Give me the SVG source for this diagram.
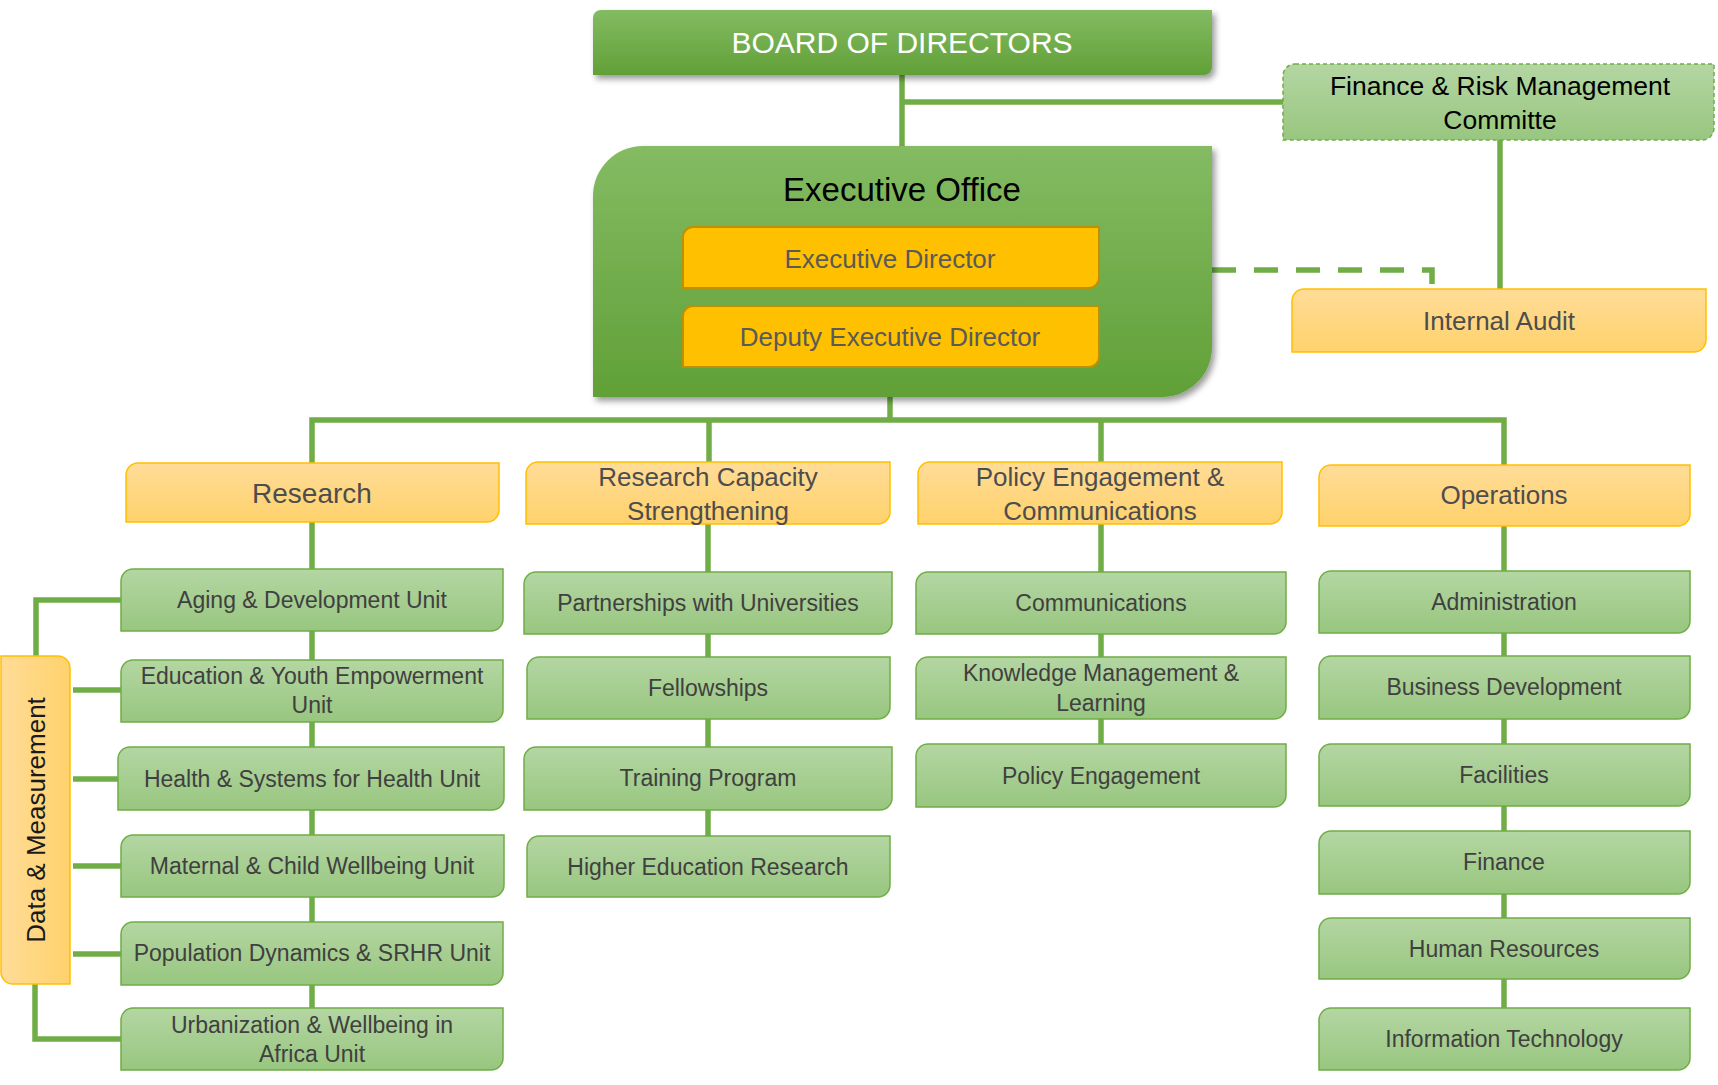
<svg xmlns="http://www.w3.org/2000/svg" width="1718" height="1085" viewBox="0 0 1718 1085">
<defs>
<linearGradient id="gDark" x1="0" y1="0" x2="0" y2="1"><stop offset="0" stop-color="#84bb63"/><stop offset="1" stop-color="#61a037"/></linearGradient>
<linearGradient id="gLight" x1="0" y1="0" x2="0" y2="1"><stop offset="0" stop-color="#b4d6a3"/><stop offset="1" stop-color="#98c67f"/></linearGradient>
<linearGradient id="gOrange" x1="0" y1="0" x2="0" y2="1"><stop offset="0" stop-color="#ffdc98"/><stop offset="1" stop-color="#ffd26c"/></linearGradient>
<linearGradient id="gOrangeH" x1="0" y1="0" x2="1" y2="0"><stop offset="0" stop-color="#ffdc98"/><stop offset="1" stop-color="#ffd26c"/></linearGradient>
<filter id="shadow" x="-5%" y="-10%" width="115%" height="130%"><feDropShadow dx="3" dy="4" stdDeviation="3" flood-color="#000" flood-opacity="0.4"/></filter>
<style>
.unit{fill:url(#gLight);stroke:#70ad47;stroke-width:1.5}
.head{fill:url(#gOrange);stroke:#ffc000;stroke-width:1.5}
.exec{fill:#ffc000;stroke:#bf9000;stroke-width:2}
.t{font-family:"Liberation Sans",Arial,sans-serif;text-anchor:middle;dominant-baseline:central}
.tu{font-size:23px;fill:#404040}
.th{font-size:26px;fill:#4d4d4d}
.con{fill:none;stroke:#70ad47;stroke-width:5.5}
.dash{fill:none;stroke:#70ad47;stroke-width:5.5;stroke-dasharray:24 18}
</style>
</defs>

<g id="connectors">
<path class="con" d="M902,75 V146"/>
<path class="con" d="M902,102 H1284"/>
<path class="con" d="M1500,140 V289"/>
<path class="dash" d="M1212,270 H1432 V286"/>
<path class="con" d="M890,397 V420"/>
<path class="con" d="M312,463 V420 H1504 V465"/>
<path class="con" d="M709,420 V462"/>
<path class="con" d="M1101,420 V462"/>
<path class="con" d="M312,522 V1008"/>
<path class="con" d="M708,524 V836"/>
<path class="con" d="M1101,524 V744"/>
<path class="con" d="M1504,526 V1008"/>
<path class="con" d="M121,600 H36 V656"/>
<path class="con" d="M73,690 H121"/>
<path class="con" d="M73,779 H118"/>
<path class="con" d="M73,866 H121"/>
<path class="con" d="M73,954 H121"/>
<path class="con" d="M35,984 V1039 H121"/>
</g>

<g id="board">
<path d="M601,10 H1212 V67 A8,8 0 0 1 1204,75 H593 V18 A8,8 0 0 1 601,10 Z" fill="url(#gDark)" filter="url(#shadow)"/>
<text class="t" x="902" y="42" font-size="30" fill="#ffffff">BOARD OF DIRECTORS</text>
</g>

<g id="finance-committee">
<path d="M1295,64 H1714 V128 A12,12 0 0 1 1702,140 H1283 V76 A12,12 0 0 1 1295,64 Z" fill="url(#gLight)" stroke="#70ad47" stroke-width="1.5" stroke-dasharray="4 3"/>
<text class="t" x="1500" y="86" font-size="26.5" fill="#000000">Finance &amp; Risk Management</text>
<text class="t" x="1500" y="120" font-size="26.5" fill="#000000">Committe</text>
</g>

<g id="executive-office">
<path d="M643,146 H1212 V347 A50,50 0 0 1 1162,397 H593 V196 A50,50 0 0 1 643,146 Z" fill="url(#gDark)" filter="url(#shadow)"/>
<text class="t" x="902" y="189" font-size="33" fill="#000000">Executive Office</text>
</g>

<g id="executive-director">
<path class="exec" d="M693,227 H1099 V278 A10,10 0 0 1 1089,288 H683 V237 A10,10 0 0 1 693,227 Z"/>
<text class="t" x="890" y="259" font-size="26" fill="#5a5a5a">Executive Director</text>
</g>

<g id="deputy-executive-director">
<path class="exec" d="M693,306 H1099 V357 A10,10 0 0 1 1089,367 H683 V316 A10,10 0 0 1 693,306 Z"/>
<text class="t" x="890" y="337" font-size="26" fill="#5a5a5a">Deputy Executive Director</text>
</g>

<g id="internal-audit">
<path class="head" d="M1304,289 H1706 V340 A12,12 0 0 1 1694,352 H1292 V301 A12,12 0 0 1 1304,289 Z"/>
<text class="t th" x="1499" y="321" font-size="27">Internal Audit</text>
</g>

<g id="research">
<path class="head" d="M138,463 H499 V510 A12,12 0 0 1 487,522 H126 V475 A12,12 0 0 1 138,463 Z"/>
<text class="t th" x="312" y="493" style="font-size:28px">Research</text>
</g>

<g id="research-capacity-strengthening">
<path class="head" d="M538,462 H890 V512 A12,12 0 0 1 878,524 H526 V474 A12,12 0 0 1 538,462 Z"/>
<text class="t th" x="708" y="477">Research Capacity</text>
<text class="t th" x="708" y="511">Strengthening</text>
</g>

<g id="policy-engagement-communications">
<path class="head" d="M930,462 H1282 V512 A12,12 0 0 1 1270,524 H918 V474 A12,12 0 0 1 930,462 Z"/>
<text class="t th" x="1100" y="477">Policy Engagement &amp;</text>
<text class="t th" x="1100" y="511">Communications</text>
</g>

<g id="operations">
<path class="head" d="M1331,465 H1690 V514 A12,12 0 0 1 1678,526 H1319 V477 A12,12 0 0 1 1331,465 Z"/>
<text class="t th" x="1504" y="495">Operations</text>
</g>

<g id="data-measurement">
<path d="M1,656 H58 A12,12 0 0 1 70,668 V984 H13 A12,12 0 0 1 1,972 Z" fill="url(#gOrangeH)" stroke="#ffc000" stroke-width="1.5"/>
<text class="t" x="36" y="820" font-size="26" fill="#1a1a1a" transform="rotate(-90 36 820)">Data &amp; Measurement</text>
</g>

<g id="aging-development">
<path class="unit" d="M133,569 H503 V619 A12,12 0 0 1 491,631 H121 V581 A12,12 0 0 1 133,569 Z"/>
<text class="t tu" x="312" y="600">Aging &amp; Development Unit</text>
</g>
<g id="education-youth">
<path class="unit" d="M133,660 H503 V710 A12,12 0 0 1 491,722 H121 V672 A12,12 0 0 1 133,660 Z"/>
<text class="t tu" x="312" y="676">Education &amp; Youth Empowerment</text>
<text class="t tu" x="312" y="705">Unit</text>
</g>
<g id="health-systems">
<path class="unit" d="M130,747 H504 V798 A12,12 0 0 1 492,810 H118 V759 A12,12 0 0 1 130,747 Z"/>
<text class="t tu" x="312" y="779">Health &amp; Systems for Health Unit</text>
</g>
<g id="maternal-child">
<path class="unit" d="M133,835 H504 V885 A12,12 0 0 1 492,897 H121 V847 A12,12 0 0 1 133,835 Z"/>
<text class="t tu" x="312" y="866">Maternal &amp; Child Wellbeing Unit</text>
</g>
<g id="population-dynamics">
<path class="unit" d="M133,922 H503 V973 A12,12 0 0 1 491,985 H121 V934 A12,12 0 0 1 133,922 Z"/>
<text class="t tu" x="312" y="953">Population Dynamics &amp; SRHR Unit</text>
</g>
<g id="urbanization-wellbeing">
<path class="unit" d="M133,1008 H503 V1058 A12,12 0 0 1 491,1070 H121 V1020 A12,12 0 0 1 133,1008 Z"/>
<text class="t tu" x="312" y="1025">Urbanization &amp; Wellbeing in</text>
<text class="t tu" x="312" y="1054">Africa Unit</text>
</g>

<g id="partnerships-universities">
<path class="unit" d="M536,572 H892 V622 A12,12 0 0 1 880,634 H524 V584 A12,12 0 0 1 536,572 Z"/>
<text class="t tu" x="708" y="603">Partnerships with Universities</text>
</g>
<g id="fellowships">
<path class="unit" d="M539,657 H890 V707 A12,12 0 0 1 878,719 H527 V669 A12,12 0 0 1 539,657 Z"/>
<text class="t tu" x="708" y="688">Fellowships</text>
</g>
<g id="training-program">
<path class="unit" d="M536,747 H892 V798 A12,12 0 0 1 880,810 H524 V759 A12,12 0 0 1 536,747 Z"/>
<text class="t tu" x="708" y="778">Training Program</text>
</g>
<g id="higher-education-research">
<path class="unit" d="M539,836 H890 V885 A12,12 0 0 1 878,897 H527 V848 A12,12 0 0 1 539,836 Z"/>
<text class="t tu" x="708" y="867">Higher Education Research</text>
</g>

<g id="communications">
<path class="unit" d="M928,572 H1286 V622 A12,12 0 0 1 1274,634 H916 V584 A12,12 0 0 1 928,572 Z"/>
<text class="t tu" x="1101" y="603">Communications</text>
</g>
<g id="knowledge-management">
<path class="unit" d="M928,657 H1286 V707 A12,12 0 0 1 1274,719 H916 V669 A12,12 0 0 1 928,657 Z"/>
<text class="t tu" x="1101" y="673">Knowledge Management &amp;</text>
<text class="t tu" x="1101" y="703">Learning</text>
</g>
<g id="policy-engagement">
<path class="unit" d="M928,744 H1286 V795 A12,12 0 0 1 1274,807 H916 V756 A12,12 0 0 1 928,744 Z"/>
<text class="t tu" x="1101" y="776">Policy Engagement</text>
</g>

<g id="administration">
<path class="unit" d="M1331,571 H1690 V621 A12,12 0 0 1 1678,633 H1319 V583 A12,12 0 0 1 1331,571 Z"/>
<text class="t tu" x="1504" y="602">Administration</text>
</g>
<g id="business-development">
<path class="unit" d="M1331,656 H1690 V707 A12,12 0 0 1 1678,719 H1319 V668 A12,12 0 0 1 1331,656 Z"/>
<text class="t tu" x="1504" y="687">Business Development</text>
</g>
<g id="facilities">
<path class="unit" d="M1331,744 H1690 V794 A12,12 0 0 1 1678,806 H1319 V756 A12,12 0 0 1 1331,744 Z"/>
<text class="t tu" x="1504" y="775">Facilities</text>
</g>
<g id="finance">
<path class="unit" d="M1331,831 H1690 V882 A12,12 0 0 1 1678,894 H1319 V843 A12,12 0 0 1 1331,831 Z"/>
<text class="t tu" x="1504" y="862">Finance</text>
</g>
<g id="human-resources">
<path class="unit" d="M1331,918 H1690 V967 A12,12 0 0 1 1678,979 H1319 V930 A12,12 0 0 1 1331,918 Z"/>
<text class="t tu" x="1504" y="949">Human Resources</text>
</g>
<g id="information-technology">
<path class="unit" d="M1331,1008 H1690 V1058 A12,12 0 0 1 1678,1070 H1319 V1020 A12,12 0 0 1 1331,1008 Z"/>
<text class="t tu" x="1504" y="1039">Information Technology</text>
</g>
</svg>
